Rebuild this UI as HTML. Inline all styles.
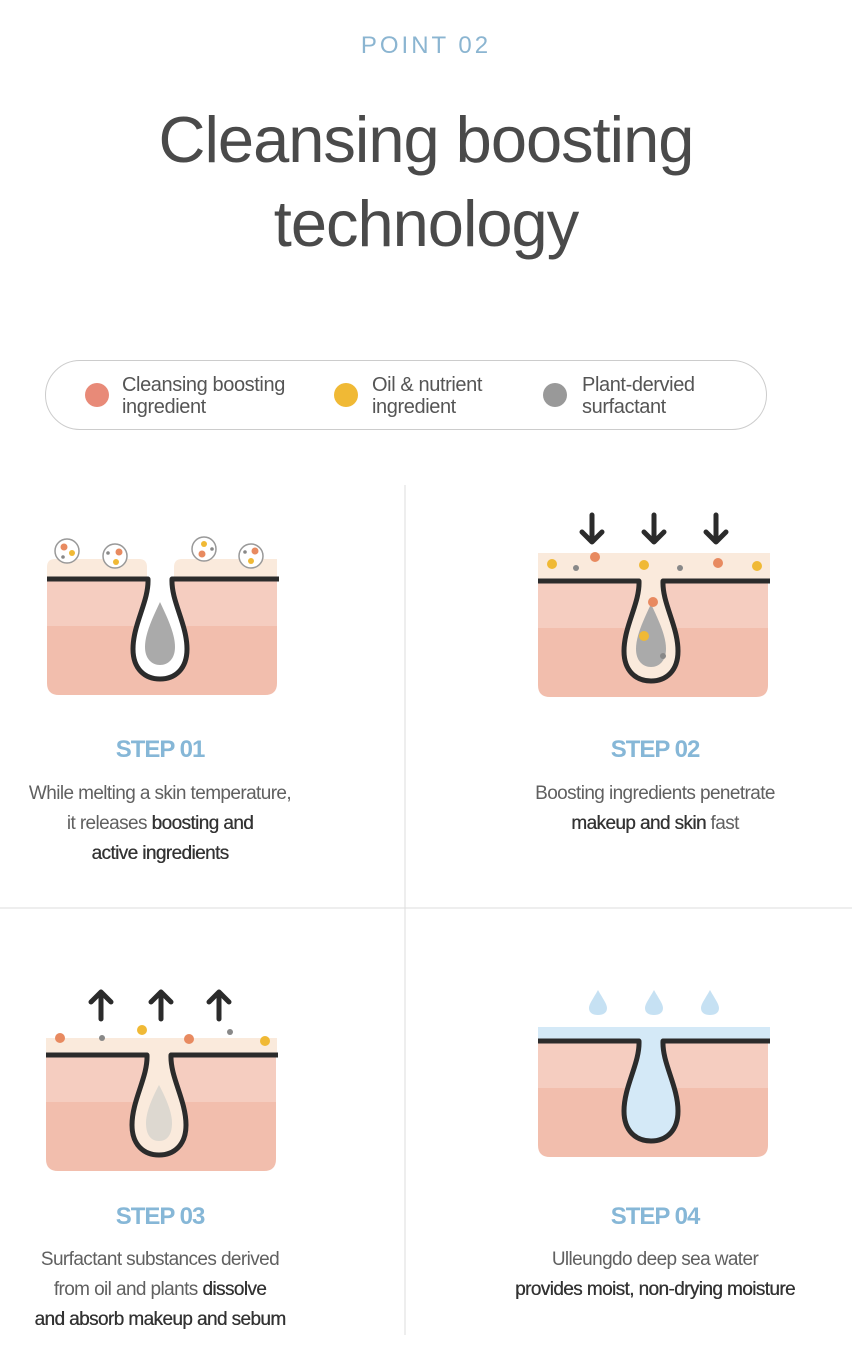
<!DOCTYPE html>
<html><head><meta charset="utf-8"><style>
body{margin:0;width:852px;height:1372px;background:#fff;position:relative;overflow:hidden;font-family:"Liberation Sans",sans-serif}
.a{position:absolute}
.pt{top:32px;left:0;width:852px;text-align:center;color:#8bb5d1;font-size:24px;letter-spacing:3px}
.ti{top:98px;left:0;width:852px;text-align:center;color:#4a4a4a;font-size:65px;line-height:84px;letter-spacing:-1px}
.lg{left:45px;top:360px;width:720px;height:68px;border:1px solid #ccc;border-radius:35px}
.li{font-size:20px;color:#555;line-height:22px;letter-spacing:-0.4px}
.st{font-size:24px;font-weight:bold;color:#86b7d7;width:400px;text-align:center;letter-spacing:-1px}
.ds{font-size:19px;color:#606060;width:400px;text-align:center;line-height:30px;letter-spacing:-0.6px}
.ds b{color:#333;font-weight:normal;text-shadow:0.3px 0 0 #333}
</style></head><body>
<div class="a pt">POINT 02</div>
<div class="a ti">Cleansing boosting<br>technology</div>
<div class="a lg"></div>
<svg class="a" style="left:0;top:0" width="852" height="1372">
<circle cx="97" cy="395" r="12" fill="#e88a78"/>
<circle cx="346" cy="395" r="12" fill="#f0b935"/>
<circle cx="555" cy="395" r="12" fill="#999"/>
<line x1="405" y1="485" x2="405" y2="1335" stroke="#ddd"/>
<line x1="0" y1="908" x2="852" y2="908" stroke="#ddd"/>
<defs>
<clipPath id="blk"><path d="M0,-25 H230 V104 Q230,116 218,116 H12 Q0,116 0,104 Z"/></clipPath>
<g id="skin">
<g clip-path="url(#blk)">
<rect x="0" y="0" width="230" height="47" fill="#f5cdc0"/>
<rect x="0" y="47" width="230" height="80" fill="#f2bead"/>
</g>
</g>
<path id="fol" d="M101,0 C102,22 86,45 86,70 C86,90 98,100 113,100 C128,100 140,90 140,70 C140,45 124,22 125,0 Z"/>
<path id="fl" d="M0,0 H101 C102,22 86,45 86,70 C86,90 98,100 113,100 C128,100 140,90 140,70 C140,45 124,22 125,0 H232" fill="none" stroke="#2b2b2b" stroke-width="5" stroke-linejoin="round"/>
</defs>
<g transform="translate(47,579)">
<use href="#skin"/>
<path d="M0,0 V-12 Q0,-20 8,-20 H92 Q100,-20 100,-12 V0 Z" fill="#faeadc"/>
<path d="M127,0 V-12 Q127,-20 135,-20 H230 V0 Z" fill="#faeadc"/>
<use href="#fol" fill="#fff"/>
<path d="M113,23 C105,40 98,55 98,68 C98,80 105,86 113,86 C121,86 128,80 128,68 C128,55 121,40 113,23 Z" fill="#aaa"/>
<use href="#fl"/>
</g>
<g fill="#fff" stroke="#999" stroke-width="1.5">
<circle cx="67" cy="551" r="12"/><circle cx="115" cy="556" r="12"/><circle cx="204" cy="549" r="12"/><circle cx="251" cy="556" r="12"/></g>
<circle cx="64" cy="547" r="3.5" fill="#e88a60"/><circle cx="72" cy="553" r="3" fill="#f0b935"/><circle cx="63" cy="557" r="1.8" fill="#888"/>
<circle cx="119" cy="552" r="3.5" fill="#e88a60"/><circle cx="116" cy="562" r="3" fill="#f0b935"/><circle cx="108" cy="553" r="1.8" fill="#888"/>
<circle cx="204" cy="544" r="3" fill="#f0b935"/><circle cx="202" cy="554" r="3.5" fill="#e88a60"/><circle cx="212" cy="549" r="1.8" fill="#888"/>
<circle cx="255" cy="551" r="3.5" fill="#e88a60"/><circle cx="251" cy="561" r="3" fill="#f0b935"/><circle cx="245" cy="552" r="1.8" fill="#888"/>
<g transform="translate(538,581)">
<use href="#skin"/>
<rect x="0" y="-28" width="232" height="28" fill="#faeadc"/>
<use href="#fol" fill="#faeadc"/>
<path d="M113,23 C105,40 98,55 98,68 C98,80 105,86 113,86 C121,86 128,80 128,68 C128,55 121,40 113,23 Z" fill="#aaa"/>
<circle cx="115" cy="21" r="5" fill="#e88a60"/><circle cx="106" cy="55" r="5" fill="#f0b935"/><circle cx="125" cy="75" r="3" fill="#888"/>
<use href="#fl"/>
<circle cx="14" cy="-17" r="5" fill="#f0b935"/><circle cx="38" cy="-13" r="3" fill="#888"/><circle cx="57" cy="-24" r="5" fill="#e88a60"/>
<circle cx="106" cy="-16" r="5" fill="#f0b935"/><circle cx="142" cy="-13" r="3" fill="#888"/><circle cx="180" cy="-18" r="5" fill="#e88a60"/><circle cx="219" cy="-15" r="5" fill="#f0b935"/>
</g>
<g stroke="#2b2b2b" stroke-width="5" fill="none" stroke-linecap="round" stroke-linejoin="round">
<path d="M592,515 V542 M582,532 L592,542 L602,532"/>
<path d="M654,515 V542 M644,532 L654,542 L664,532"/>
<path d="M716,515 V542 M706,532 L716,542 L726,532"/>
<path d="M101,1019 V992 M91,1002 L101,992 L111,1002"/>
<path d="M161,1019 V992 M151,1002 L161,992 L171,1002"/>
<path d="M219,1019 V992 M209,1002 L219,992 L229,1002"/>
</g>
<g transform="translate(46,1055)">
<use href="#skin"/>
<rect x="0" y="-17" width="231" height="17" fill="#faeadc"/>
<use href="#fol" fill="#faeadc"/>
<path d="M113,30 C105,45 100,58 100,68 C100,80 105,86 113,86 C121,86 126,80 126,68 C126,58 121,45 113,30 Z" fill="#ddd8d0"/>
<use href="#fl"/>
</g>
<circle cx="60" cy="1038" r="5" fill="#e88a60"/><circle cx="102" cy="1038" r="3" fill="#888"/><circle cx="142" cy="1030" r="5" fill="#f0b935"/>
<circle cx="189" cy="1039" r="5" fill="#e88a60"/><circle cx="230" cy="1032" r="3" fill="#888"/><circle cx="265" cy="1041" r="5" fill="#f0b935"/>
<g transform="translate(538,1041)">
<use href="#skin"/>
<rect x="0" y="-14" width="232" height="14" fill="#d4e9f7"/>
<use href="#fol" fill="#d4e9f7"/>
<use href="#fl"/>
</g>
<g fill="#c6e1f3">
<path d="M598,990 C593,999 589,1004 589,1008 C589,1013 593,1015 598,1015 C603,1015 607,1013 607,1008 C607,1004 603,999 598,990Z"/>
<path d="M654,990 C649,999 645,1004 645,1008 C645,1013 649,1015 654,1015 C659,1015 663,1013 663,1008 C663,1004 659,999 654,990Z"/>
<path d="M710,990 C705,999 701,1004 701,1008 C701,1013 705,1015 710,1015 C715,1015 719,1013 719,1008 C719,1004 715,999 710,990Z"/>
</g>
</svg>
<div class="a li" style="left:122px;top:374px">Cleansing boosting<br>ingredient</div>
<div class="a li" style="left:372px;top:374px">Oil &amp; nutrient<br>ingredient</div>
<div class="a li" style="left:582px;top:374px">Plant-dervied<br>surfactant</div>
<div class="a st" style="left:-40px;top:736px">STEP 01</div>
<div class="a ds" style="left:-40px;top:779px">While melting a skin temperature,<br>it releases <b>boosting and</b><br><b>active ingredients</b></div>
<div class="a st" style="left:455px;top:736px">STEP 02</div>
<div class="a ds" style="left:455px;top:779px">Boosting ingredients penetrate<br><b>makeup and skin</b> fast</div>
<div class="a st" style="left:-40px;top:1203px">STEP 03</div>
<div class="a ds" style="left:-40px;top:1245px">Surfactant substances derived<br>from oil and plants <b>dissolve</b><br><b>and absorb makeup and sebum</b></div>
<div class="a st" style="left:455px;top:1203px">STEP 04</div>
<div class="a ds" style="left:455px;top:1245px">Ulleungdo deep sea water<br><b>provides moist, non-drying moisture</b></div>
</body></html>
